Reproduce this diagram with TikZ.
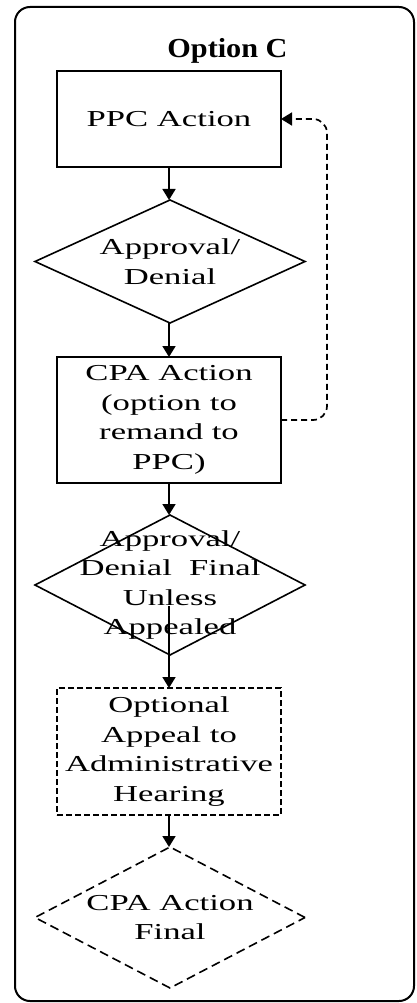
\documentclass[tikz,border=0pt]{standalone}
\usepackage{fontspec}
\usetikzlibrary{arrows.meta,shapes.geometric,calc}
\newfontfamily\bodyfont[FakeStretch=1.52]{Liberation Serif}
\newfontfamily\titlefont[FakeStretch=1.1]{Liberation Serif}
\begin{document}
\begin{tikzpicture}[x=1pt,y=1pt,
  every node/.style={inner sep=0pt, outer sep=0pt},
  boxa/.style={draw, line width=1.8pt, minimum width=224pt, align=center, font=\bodyfont\fontsize{22.8}{29.5}\selectfont},
  dia/.style={draw, diamond, line width=1.6pt, minimum width=270pt},
  txt/.style={align=center, font=\bodyfont\fontsize{22.8}{29.5}\selectfont},
  conn/.style={line width=1.7pt, -{Triangle[length=11pt,width=13pt]}},
  dshbox/.style={dash pattern=on 6pt off 3pt},
  dshdia/.style={dash pattern=on 9pt off 5pt},
  dshcon/.style={dash pattern=on 6pt off 4pt}
]
\useasboundingbox (0,0) rectangle (416,-1003);
\draw[line width=2pt, rounded corners=15pt] (15,-7) rectangle (414,-1001);
\node[font=\titlefont\bfseries\fontsize{27.5}{30}\selectfont, anchor=base] (title) at (227.5,-58) {Option C};

\node[boxa, minimum height=96pt] (b1) at (169,-119) {PPC Action};
\node[dia, minimum height=123pt] (d1) at (170,-261.5) {};
\node[txt] (d1t) at (170,-261.5) {Approval/\\Denial};
\node[boxa, minimum height=126pt] (b2) at (169,-420) {CPA Action\\(option to\\remand to\\PPC)};
\node[dia, minimum height=140pt] (d2) at (170,-585) {};
\node[txt] (d2t) at (170,-585) {Approval/\\Denial\ \ Final\\Unless\\Appealed};
\node[boxa, dshbox, minimum height=127pt] (b3) at (169,-751.5) {Optional\\Appeal to\\Administrative\\Hearing};
\node[dia, dshdia, minimum height=141pt] (d3) at (170,-917.5) {};
\node[txt] (d3t) at (170,-917.5) {CPA Action\\Final};

\coordinate (d2out) at (169,-606);
\coordinate (rt) at ($(b1.east)+(46,0)$);

\draw[conn] (b1.south) -- (b1.south |- d1.north);
\draw[conn] (d1.south -| b2.north) -- (b2.north);
\draw[conn] (b2.south) -- (b2.south |- d2.north);
\draw[conn] (d2out) -- (b3.north);
\draw[conn] (b3.south) -- (b3.south |- d3.north);
\draw[conn, dshcon, rounded corners=14pt] (b2.east) -| (rt) -- (b1.east);
\end{tikzpicture}
\end{document}
